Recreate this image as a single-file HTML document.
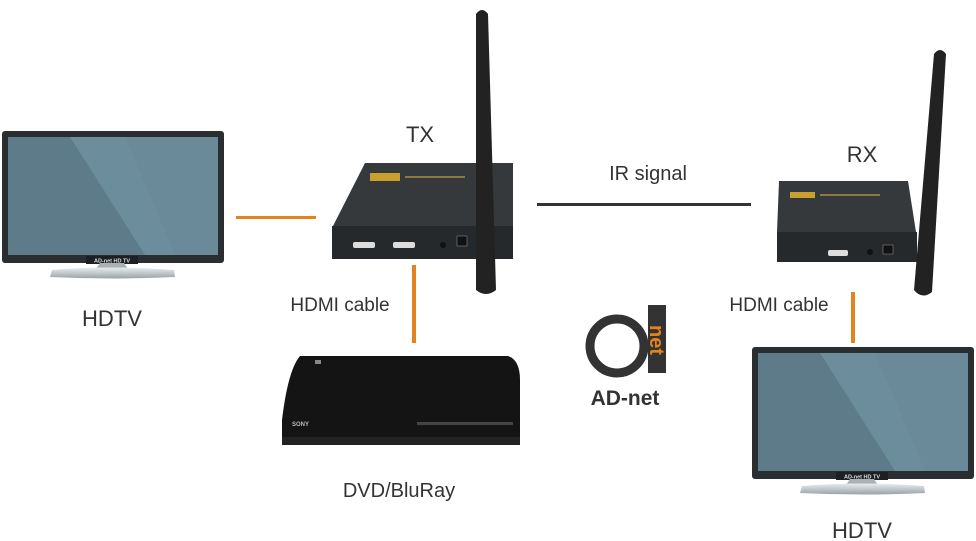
<!DOCTYPE html>
<html><head><meta charset="utf-8"><style>
body{margin:0;background:#fff;}
svg{display:block;font-family:"Liberation Sans",sans-serif;}
</style></head><body>
<svg width="976" height="541" viewBox="0 0 976 541">
<defs>
<linearGradient id="st" x1="0" y1="0" x2="0" y2="1"><stop offset="0" stop-color="#e8ecee"/><stop offset="1" stop-color="#9aa3a8"/></linearGradient>
<g id="tv">
<rect x="2" y="11" width="222" height="132" rx="3" fill="#2a2e31"/>
<rect x="8" y="17" width="210" height="118" fill="#5d7b89"/>
<polygon points="70,17 218,17 218,135 145,135" fill="#6c8d9b"/>
<polygon points="125,17 218,17 218,135 175,135" fill="#6a8997" opacity="0.6"/>
<rect x="86" y="136" width="52" height="8" fill="#1d2022"/>
<text x="112" y="142.5" font-size="5.5" font-weight="bold" fill="#ddd" text-anchor="middle">AD-net HD TV</text>
<polygon points="100,143 124,143 128,149 96,149" fill="#aab2b6"/>
<path d="M52,150 Q112,145 174,150 L175,157 Q112,160 50,157Z" fill="url(#st)"/>
</g>
</defs>
<use href="#tv" x="0" y="120"/>
<text x="112" y="326" font-size="22" fill="#333" text-anchor="middle">HDTV</text>
<use href="#tv" x="750" y="336"/>
<text x="862" y="538" font-size="22" fill="#333" text-anchor="middle">HDTV</text>

<rect x="236" y="216" width="80" height="3" fill="#e4821e"/>
<rect x="412" y="265" width="4" height="78" fill="#e4821e"/>
<rect x="851" y="292" width="4" height="51" fill="#e4821e"/>
<rect x="537" y="203" width="214" height="3" fill="#333"/>

<text x="420" y="142" font-size="22" fill="#333" text-anchor="middle">TX</text>
<text x="862" y="162" font-size="22" fill="#333" text-anchor="middle">RX</text>
<text x="648" y="180" font-size="20" fill="#333" text-anchor="middle">IR signal</text>
<text x="340" y="311" font-size="19" fill="#333" text-anchor="middle">HDMI cable</text>
<text x="779" y="311" font-size="19" fill="#333" text-anchor="middle">HDMI cable</text>
<text x="399" y="497" font-size="20" fill="#333" text-anchor="middle">DVD/BluRay</text>

<polygon points="365,163 513,163 513,228 332,228" fill="#35393c"/>
<rect x="332" y="226" width="181" height="33" fill="#26292b"/>
<rect x="370" y="173" width="30" height="8" fill="#c9a02e"/>
<rect x="405" y="176" width="60" height="2" fill="#8a7a40"/>
<rect x="353" y="242" width="22" height="6" rx="2" fill="#ddd"/>
<rect x="393" y="242" width="22" height="6" rx="2" fill="#ddd"/>
<rect x="457" y="236" width="10" height="10" fill="#111" stroke="#999" stroke-width="0.5"/>
<circle cx="443" cy="245" r="3" fill="#111"/>
<path d="M476,14 Q482,6 488,14 L496,290 Q486,298 476,290Z" fill="#222"/>
<polygon points="779,181 908,181 916,232 777,232" fill="#35393c"/>
<rect x="777" y="232" width="140" height="30" fill="#26292b"/>
<rect x="790" y="192" width="25" height="6" fill="#c9a02e"/>
<rect x="820" y="194" width="60" height="2" fill="#8a7a40"/>
<rect x="828" y="250" width="20" height="6" rx="2" fill="#ddd"/>
<rect x="883" y="245" width="10" height="9" fill="#111" stroke="#999" stroke-width="0.5"/>
<circle cx="870" cy="252" r="3" fill="#111"/>
<path d="M934,54 Q940,46 946,54 L932,292 Q922,300 914,290Z" fill="#222"/>

<path d="M300,356 L508,356 Q520,360 520,380 L520,444 L282,444 L282,420 Q288,370 300,356Z" fill="#141414"/>
<rect x="282" y="437" width="238" height="8" fill="#222"/>
<rect x="417" y="422" width="96" height="3" fill="#444"/>
<text x="292" y="426" font-size="6" font-weight="bold" fill="#bbb">SONY</text>
<rect x="315" y="360" width="6" height="4" fill="#888"/>

<circle cx="617" cy="346" r="27" fill="none" stroke="#333" stroke-width="9"/>
<rect x="648" y="305" width="18" height="68" fill="#333"/>
<text transform="translate(650,340) rotate(90)" font-size="20" font-weight="bold" fill="#e4821e" text-anchor="middle">net</text>
<text x="625" y="405" font-size="21" font-weight="bold" fill="#333" text-anchor="middle">AD-net</text>
</svg>
</body></html>
